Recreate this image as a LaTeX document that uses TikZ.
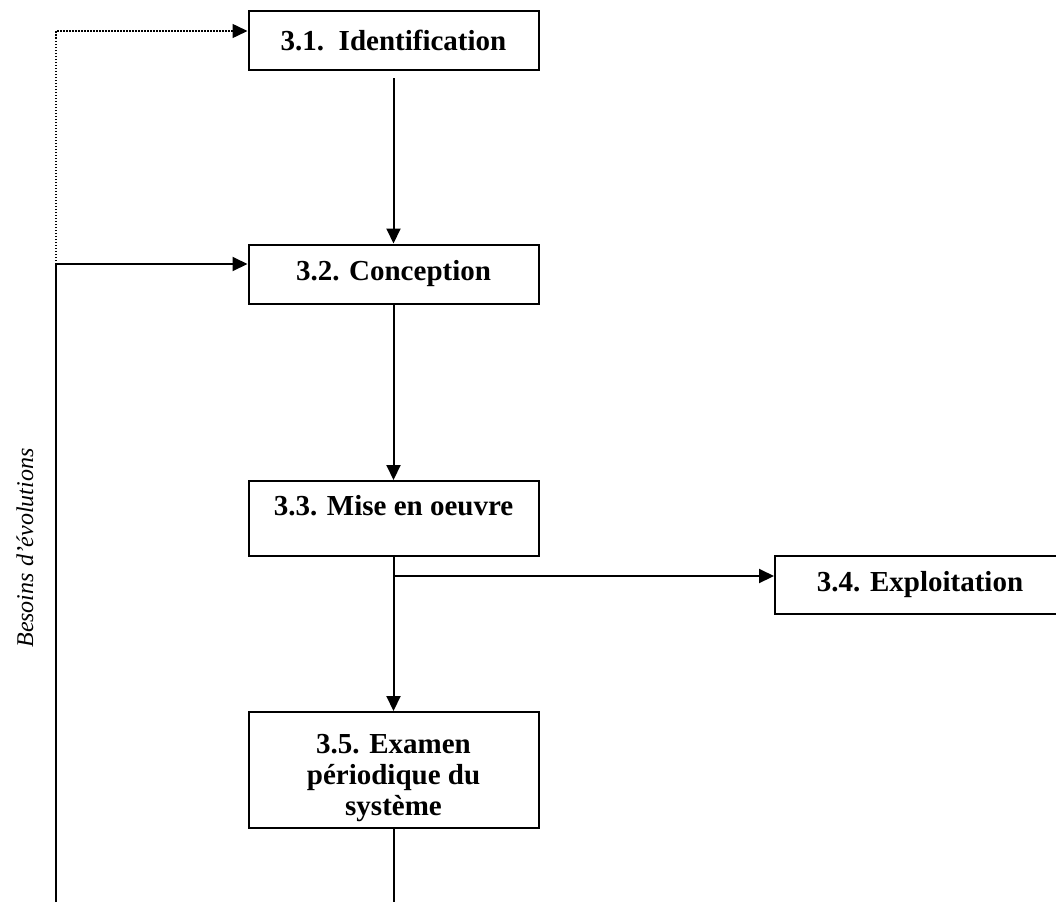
\documentclass[tikz,border=0pt]{standalone}
\usepackage{fontspec}
\setmainfont{Liberation Serif}
\usetikzlibrary{arrows.meta}

\begin{document}
\begin{tikzpicture}[x=1pt, y=-1pt,
  box/.style={draw, line width=2pt, minimum width=290pt, minimum height=59pt,
    align=center, font=\bfseries\fontsize{29}{31}\selectfont},
  link/.style={line width=2pt, -{Triangle[length=15pt,width=14pt]}}]
\useasboundingbox (0,0) rectangle (1056,902);
\clip (0,0) rectangle (1056,902);
\node [box] (ident) at (393.5,40.5) {3.1.~~Identification};
\node [box] (concep) at (393.5,274) {3.2. Conception};
\node [box, minimum height=75pt, text height=20pt, text depth=27pt] (miseoeuvre) at (393.5,518.5) {3.3. Mise en oeuvre};
\node [box, minimum height=58pt] (exploit) at (920,585) {3.4. Exploitation};
\node [box, minimum height=116pt, inner ysep=2pt] (examen) at (393.5,770) {\rule{0pt}{36pt}3.5. Examen\\ périodique du\\ système};
\coordinate (split) at (393.5,576);
\coordinate (fb) at (56,264);
\coordinate (fbtop) at (56,31);
\coordinate (fbbot) at (56,902);
\coordinate (exbot) at (393.5,902);
\draw [link, shorten <=7pt] (ident) -- (concep);
\draw [link] (concep) -- (miseoeuvre);
\draw [link] (miseoeuvre) -- (examen);
\draw [link] (split) -- (split -| exploit.west);
\draw [line width=2pt] (examen) -- (exbot);
\draw [link] (fbbot) -- (fb) -- (fb -| concep.west);
\draw [link, line width=1.5pt, dash pattern=on 1.5pt off 1.5pt] (fb) -- (fbtop) -- (fbtop -| ident.west);
\node [rotate=90, font=\itshape\fontsize{24}{28}\selectfont] (besoins) at (25,548) {Besoins d’évolutions};
\end{tikzpicture}
\end{document}
